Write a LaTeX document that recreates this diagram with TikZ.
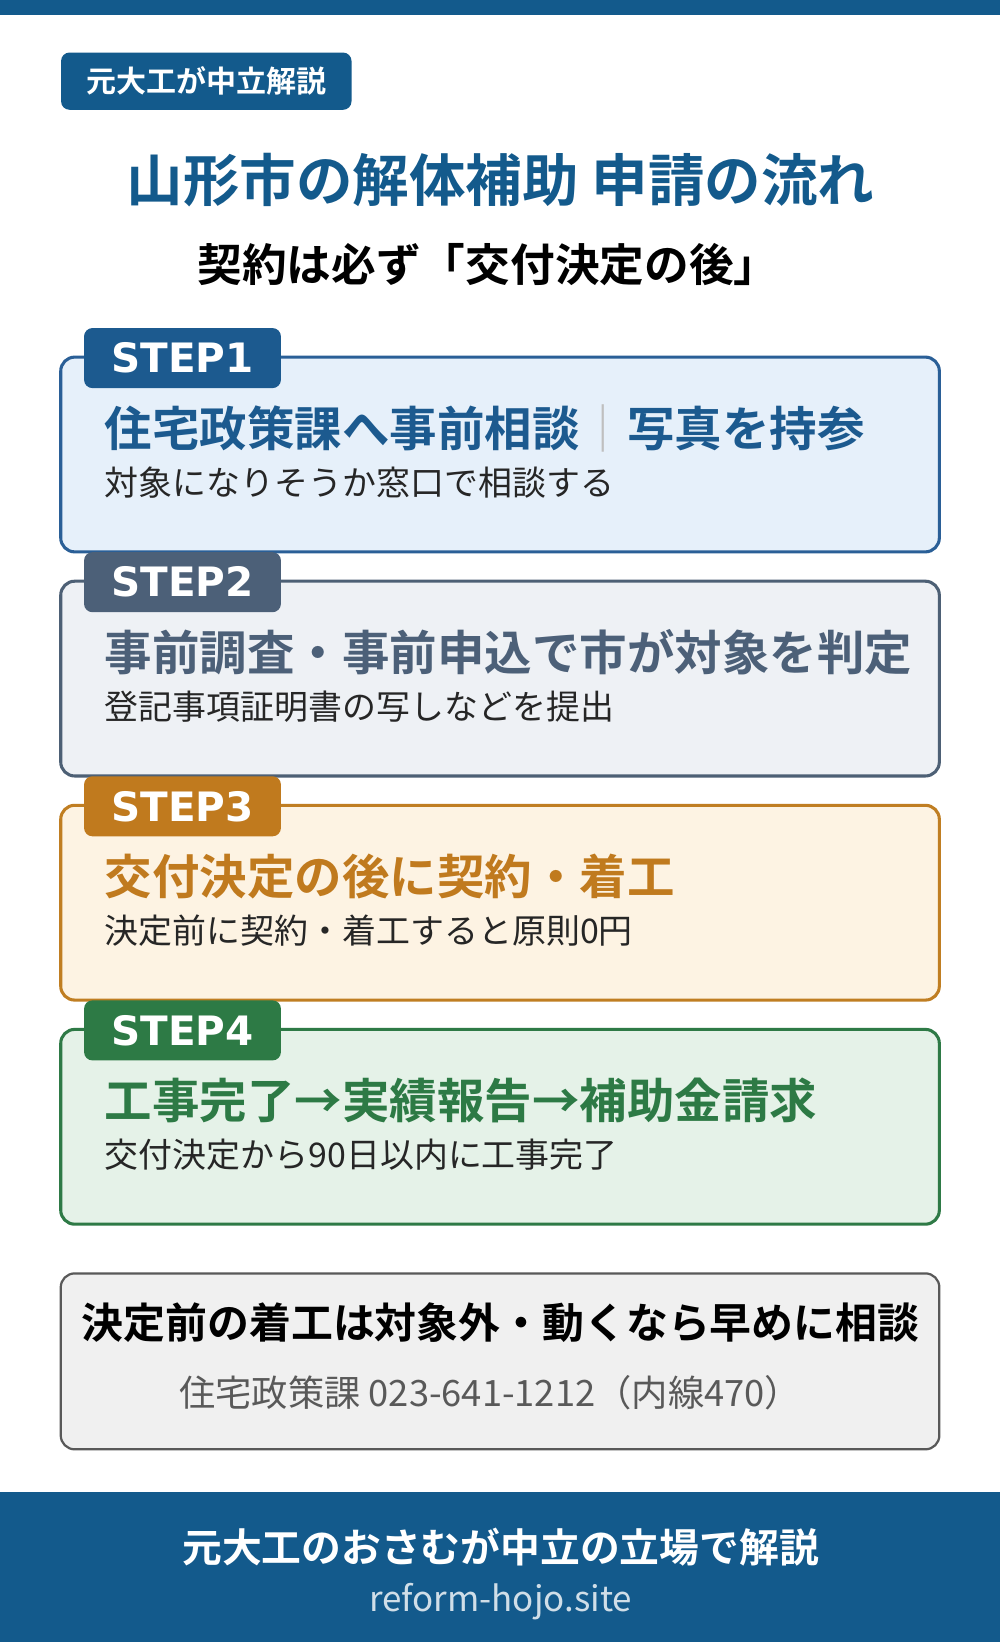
\documentclass[tikz,border=0pt]{standalone}
\usepackage{fontspec}
\setmainfont{Noto Sans CJK JP}
\newfontfamily\jpb{Noto Sans CJK JP Bold}
\newfontfamily\stepf{DejaVu Sans Bold}
\begin{document}
\definecolor{navy}{HTML}{135A8C}
\begin{tikzpicture}[x=0.75pt,y=-0.75pt,
 txt/.style={inner sep=0pt,anchor=west},
 box/.style={rounded corners=10pt,line width=2.2pt},
 tab/.style={rounded corners=6pt,inner sep=0pt,minimum width=141pt,minimum height=43pt,text=white,font=\stepf\fontsize{29}{29}\selectfont,anchor=north west},
 head/.style={txt,font=\jpb\fontsize{34}{34}\selectfont},
 sub/.style={txt,font=\fontsize{24.3}{24.3}\selectfont,text=black!85}]
\useasboundingbox (0,0) rectangle (955,1568);
\fill[white] (0,0) rectangle (955,1568);
\fill[navy] (0,0) rectangle (955,14);
\node[fill=navy,rounded corners=6pt,minimum width=208pt,minimum height=41pt,inner sep=0pt,text=white,font=\jpb\fontsize{21.5}{21.5}\selectfont] (badge) at (197,77.5) {元大工が中立解説};
\node[text=navy,font=\jpb\fontsize{40.5}{40.5}\selectfont,inner sep=0pt] (title) at (478,172) {山形市の解体補助 申請の流れ};
\node[font=\jpb\fontsize{32}{32}\selectfont,inner sep=0pt] (subt) at (466,253) {契約は必ず「交付決定の後」};
\foreach \n/\t/\bc/\fc/\tc/\h/\s in {
 1/341/2A5F97/E6F0FA/1C5A8F/{住宅政策課へ事前相談{\color{black!25}\fontseries{m}\selectfont ｜}写真を持参}/対象になりそうか窓口で相談する,
 2/555/4D6075/EEF1F5/4C6078/事前調査・事前申込で市が対象を判定/登記事項証明書の写しなどを提出,
 3/769/C07E22/FDF3E3/C07A1E/交付決定の後に契約・着工/決定前に契約・着工すると原則0円,
 4/983/2E7A46/E5F2E8/2D7A45/工事完了→実績報告→補助金請求/交付決定から90日以内に工事完了}{
 \definecolor{bc}{HTML}{\bc}\definecolor{fc}{HTML}{\fc}\definecolor{tc}{HTML}{\tc}
 \draw[box,draw=bc,fill=fc] (58,\t) rectangle (897,\t+186);
 \node[tab,fill=tc] (tab\n) at (80,\t-28) {STEP\n};
 \node[head,text=tc] (h\n) at (100,\t+68) {\h};
 \node[sub] (s\n) at (100,\t+120) {\s};
}
\draw[box,draw=black!65,fill=black!6,line width=1.6pt] (58,1216) rectangle (897,1384);
\node[font=\jpb\fontsize{30}{30}\selectfont,inner sep=0pt] (note1) at (478,1263) {決定前の着工は対象外・動くなら早めに相談};
\node[font=\fontsize{26}{26}\selectfont,text=black!65,inner sep=0pt] (note2) at (468,1330) {住宅政策課 023-641-1212（内線470）};
\fill[navy] (0,1425) rectangle (955,1568);
\node[font=\jpb\fontsize{28.5}{28.5}\selectfont,text=white,inner sep=0pt] (foot1) at (478,1477) {元大工のおさむが中立の立場で解説};
\node[font=\fontsize{25}{25}\selectfont,text=navy!20,inner sep=0pt] (foot2) at (478,1529) {reform-hojo.site};
\end{tikzpicture}
\end{document}
